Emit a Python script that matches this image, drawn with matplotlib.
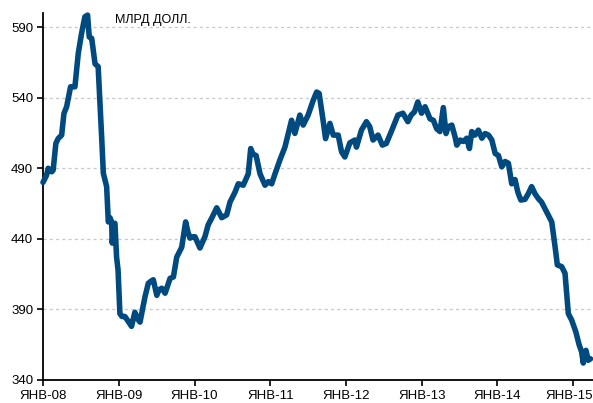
import matplotlib.pyplot as plt
import matplotlib.transforms as mtransforms
import pandas as pd

plt.rcParams["font.family"] = ["Liberation Sans", "DejaVu Sans"]

# weekly reserves, bn USD
dates = [
    "2008-01-01", "2008-01-18", "2008-01-26", "2008-02-12", "2008-02-19", "2008-03-03",
    "2008-03-14", "2008-03-31", "2008-04-11", "2008-04-24", "2008-05-13", "2008-06-03",
    "2008-06-19", "2008-07-05", "2008-07-21", "2008-08-03", "2008-08-11", "2008-08-23",
    "2008-09-08", "2008-09-23", "2008-10-10", "2008-10-18", "2008-11-03", "2008-11-11",
    "2008-11-19", "2008-11-27", "2008-11-30", "2008-12-08", "2008-12-13", "2008-12-21",
    "2008-12-28", "2009-01-06", "2009-01-16", "2009-01-30", "2009-02-13", "2009-03-03",
    "2009-03-19", "2009-04-03", "2009-04-13", "2009-05-07", "2009-05-23", "2009-06-05",
    "2009-06-16", "2009-07-03", "2009-07-14", "2009-07-27", "2009-08-12", "2009-09-05",
    "2009-09-21", "2009-10-07", "2009-10-31", "2009-11-19", "2009-11-30", "2009-12-10",
    "2009-12-26", "2010-01-03", "2010-01-27", "2010-02-20", "2010-03-08", "2010-03-26",
    "2010-04-18", "2010-05-12", "2010-06-05", "2010-06-21", "2010-07-15", "2010-07-31",
    "2010-08-24", "2010-09-17", "2010-09-29", "2010-10-10", "2010-10-25", "2010-11-13",
    "2010-12-07", "2010-12-23", "2011-01-08", "2011-01-24", "2011-02-17", "2011-03-13",
    "2011-04-14", "2011-04-30", "2011-05-24", "2011-06-09", "2011-07-03", "2011-07-27",
    "2011-08-13", "2011-08-25", "2011-09-13", "2011-09-25", "2011-10-16", "2011-11-01",
    "2011-11-25", "2011-12-11", "2011-12-27", "2012-01-20", "2012-02-13", "2012-02-21",
    "2012-03-16", "2012-04-09", "2012-04-25", "2012-05-11", "2012-06-04", "2012-06-25",
    "2012-07-14", "2012-08-07", "2012-09-08", "2012-10-02", "2012-10-26", "2012-11-11",
    "2012-11-27", "2012-12-13", "2012-12-31", "2013-01-17", "2013-02-10", "2013-02-26",
    "2013-03-14", "2013-03-30", "2013-04-15", "2013-04-28", "2013-05-09", "2013-05-26",
    "2013-06-11", "2013-06-19", "2013-07-05", "2013-07-21", "2013-08-06", "2013-08-19",
    "2013-08-30", "2013-09-15", "2013-10-01", "2013-10-18", "2013-11-03", "2013-11-19",
    "2013-12-05", "2013-12-21", "2014-01-06", "2014-01-22", "2014-02-07", "2014-02-23",
    "2014-03-03", "2014-03-11", "2014-03-27", "2014-04-07", "2014-04-12", "2014-04-24",
    "2014-05-14", "2014-05-30", "2014-06-15", "2014-07-01", "2014-07-17", "2014-08-02",
    "2014-08-18", "2014-09-03", "2014-09-20", "2014-10-06", "2014-10-17", "2014-11-07",
    "2014-11-23", "2014-12-09", "2014-12-25", "2015-01-14", "2015-01-30", "2015-02-11",
    "2015-02-19", "2015-03-04", "2015-03-15", "2015-03-26",
]
reserves = [
    480, 485, 490, 487.5, 488.7, 507.6,
    511, 513.5, 528.8, 533.6, 547.7, 547.7,
    571.3, 585.5, 597.3, 598.5, 583, 582,
    564, 562, 512, 486.5, 477, 452,
    455, 452, 437, 450, 451, 427,
    418, 387, 385, 385, 382, 378,
    388, 383, 381, 399, 408.5, 410,
    411, 400, 404, 405, 401.5, 412,
    413, 427, 434, 452, 445, 440.5,
    441.5, 441.5, 433.5, 441.5, 450, 455,
    462, 455, 457, 466, 473, 479,
    478, 486, 504, 500, 499, 486,
    478, 480.5, 479, 486, 496, 505,
    524, 514.7, 527.7, 520.6, 527.7, 538,
    544, 543, 524, 511, 521.8, 513.5,
    513.5, 501.7, 498, 508, 510, 505,
    517, 523, 519.5, 510, 513.5, 506.4,
    507.6, 516, 527.7, 529, 523, 527.7,
    530, 537, 529, 533.6, 525, 524,
    518, 516, 533, 514.6, 519.4, 520.6,
    512, 506.4, 510, 509, 511.3, 504,
    516, 513.5, 517, 511.3, 514.6, 513.5,
    510, 500.5, 499, 491, 494.8, 493.5,
    486, 479, 482, 474.6, 472, 467.5,
    468, 472, 477, 472, 468.6, 466,
    461.4, 456.9, 452, 434.4, 421.5, 420.3,
    415.6, 387, 382.5, 374.2, 365, 360,
    352, 361, 354, 355,
]
y_ticks = [340, 390, 440, 490, 540, 590]
x_years = list(range(2008, 2016))
x_labels = [f"ЯНВ-{y % 100:02d}" for y in x_years]

series = pd.Series(reserves, index=pd.to_datetime(dates))

fig = plt.figure(figsize=(5.93, 4.03), dpi=100)
ax = fig.add_axes([43 / 593, 1 - 380 / 403, 1 - 43 / 593, (380 - 13) / 403])

ax.plot(series.index, series.values, color="#004A80", linewidth=4,
        solid_joinstyle="round", solid_capstyle="round", clip_on=False, zorder=3)

ax.set_ylim(340, 600)
ax.set_xlim(pd.Timestamp("2008-01-01"), pd.Timestamp("2015-04-07"))
ax.set_yticks(y_ticks)
ax.set_xticks([pd.Timestamp(f"{y}-01-01") for y in x_years])
ax.set_xticklabels(x_labels)
for v in y_ticks[1:]:
    ax.axhline(v, color="#C8C8C8", linewidth=0.9, linestyle=(0, (2.5, 2.5)), zorder=1)

for side in ("top", "right"):
    ax.spines[side].set_visible(False)
for side in ("left", "bottom"):
    ax.spines[side].set_linewidth(1.3)
    ax.spines[side].set_color("black")
ax.tick_params(axis="both", direction="out", length=4, width=1.2,
               labelsize=9.5, colors="black")
ax.tick_params(axis="y", pad=3)
ax.tick_params(axis="x", pad=3)

# last label sits right at the figure edge, nudge it in a little
last = ax.get_xticklabels()[-1]
last.set_transform(last.get_transform() +
                   mtransforms.ScaledTranslation(-3 / 72, 0, fig.dpi_scale_trans))

fig.text(115 / 593, 1 - 20 / 403, "МЛРД ДОЛЛ.", fontsize=9, va="center", ha="left")

fig.savefig("out.png", dpi=100)
